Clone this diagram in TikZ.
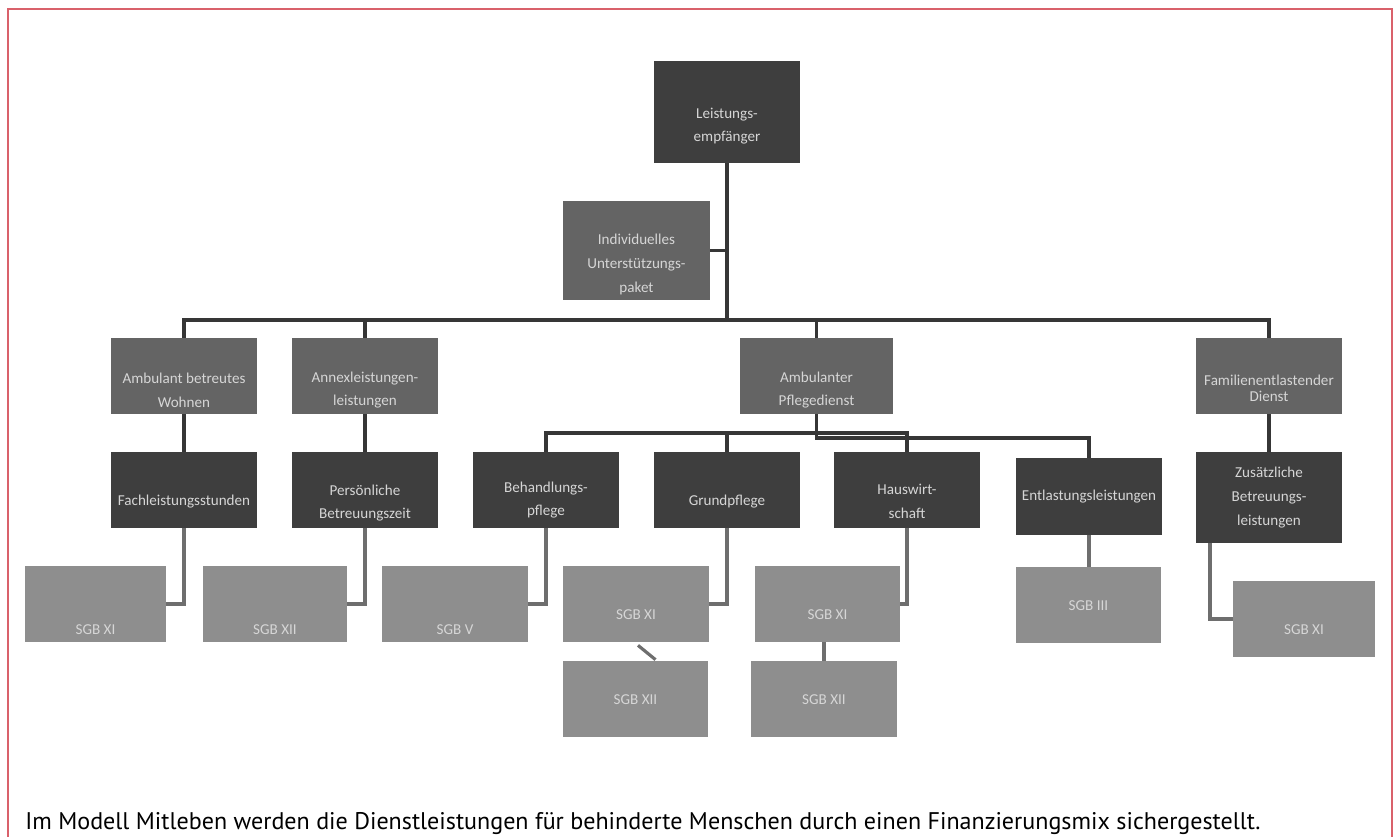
\documentclass[tikz,border=0pt]{standalone}
\usepackage{fontspec}
\setmainfont{Carlito}
\newfontfamily\capfont{PT Sans}
\usetikzlibrary{calc}
\definecolor{dkfill}{HTML}{3E3E3E}
\definecolor{mdfill}{HTML}{646464}
\definecolor{ltfill}{HTML}{8E8E8E}
\definecolor{lncol}{HTML}{363636}
\definecolor{lnbcol}{HTML}{6E6E6E}
\definecolor{txcol}{HTML}{D6D6D6}
\definecolor{frmcol}{HTML}{D9616B}
\tikzset{
 bx/.style={rectangle, inner sep=0pt, draw=none},
 dkbox/.style={bx, fill=dkfill},
 mdbox/.style={bx, fill=mdfill},
 ltbox/.style={bx, fill=ltfill},
 txt/.style={text=txcol, font=\fontsize{8.6}{13.5}\selectfont, align=center, inner sep=0pt},
 conn/.style={draw=lncol, line width=1.9pt},
 connb/.style={draw=lnbcol, line width=1.8pt},
}
\newcommand\mybox[6]{\node[#2, minimum width={(#5-#3)*0.02cm}, minimum height={(#6-#4)*0.02cm}] (#1) at ({(#3+#5)/2},{(#4+#6)/2}) {};}
\newcommand\mytxt[3]{\node[txt] (#1-t) at ($(#1.center)+(0,#2)$) {#3};}
\begin{document}
\begin{tikzpicture}[x=0.02cm,y=-0.02cm]
\useasboundingbox (0,0) rectangle (1396,836);
\fill[white] (0,0) rectangle (1396,836);
\draw[frmcol, line width=1pt] (8,840) -- (8,9) -- (1392,9) -- (1392,840);
% boxes
\mybox{emp}{dkbox}{654}{61}{800}{163}
\mybox{iup}{mdbox}{563}{201}{710}{300}
\mybox{abw}{mdbox}{111}{338}{257}{414}
\mybox{ass}{mdbox}{292}{338}{438}{414}
\mybox{apd}{mdbox}{740}{338}{893}{414}
\mybox{fed}{mdbox}{1196}{338}{1342}{414}
\mybox{fls}{dkbox}{111}{452}{257}{528}
\mybox{pbz}{dkbox}{292}{452}{438}{528}
\mybox{bhp}{dkbox}{473}{452}{619}{528}
\mybox{grp}{dkbox}{654}{452}{800}{528}
\mybox{hsw}{dkbox}{834}{452}{980}{528}
\mybox{ent}{dkbox}{1016}{458}{1162}{535}
\mybox{zbl}{dkbox}{1196}{452}{1342}{543}
\mybox{sa}{ltbox}{25}{566}{166}{642}
\mybox{sb}{ltbox}{203}{566}{347}{642}
\mybox{sc}{ltbox}{382}{566}{528}{642}
\mybox{sd}{ltbox}{563}{566}{709}{642}
\mybox{se}{ltbox}{563}{661}{708}{737}
\mybox{sf}{ltbox}{755}{566}{900}{642}
\mybox{sg}{ltbox}{751}{661}{897}{737}
\mybox{sh}{ltbox}{1016}{567}{1161}{643}
\mybox{si}{ltbox}{1233}{581}{1375}{657}
% texts
\mytxt{emp}{14}{Leistungs-\\empfänger}
\mytxt{iup}{14}{Individuelles\\Unterstützungs-\\paket}
\mytxt{abw}{14}{Ambulant betreutes\\Wohnen}
\mytxt{ass}{14}{Annexleistungen-\\leistungen}
\mytxt{apd}{14}{Ambulanter\\Pflegedienst}
\mytxt{fed}{12}{Familienentlastender\\[-4.5pt]Dienst}
\mytxt{fls}{12}{Fachleistungsstunden}
\mytxt{pbz}{13}{Persönliche\\Betreuungszeit}
\mytxt{bhp}{10}{Behandlungs-\\pflege}
\mytxt{grp}{12}{Grundpflege}
\mytxt{hsw}{11}{Hauswirt-\\schaft}
\mytxt{ent}{0}{Entlastungsleistungen}
\mytxt{zbl}{0}{Zusätzliche\\Betreuungs-\\leistungen}
\mytxt{sa}{26}{SGB XI}
\mytxt{sb}{26}{SGB XII}
\mytxt{sc}{26}{SGB V}
\mytxt{sd}{11}{SGB XI}
\mytxt{se}{1}{SGB XII}
\mytxt{sf}{11}{SGB XI}
\mytxt{sg}{1}{SGB XII}
\mytxt{sh}{1}{SGB III}
\mytxt{si}{11}{SGB XI}
% connectors
\coordinate (busy) at (0,320);
\coordinate (by1) at (0,433);
\coordinate (by2) at (0,438);
\coordinate (zc) at (1210,0);
\draw[conn] (emp.south) -- (emp.south |- busy);
\draw[conn] (iup.east) -- (iup.east -| emp.south);
\draw[conn] (abw.north) -- (abw.north |- busy) -- (fed.north |- busy) -- (fed.north);
\draw[conn] (ass.north) -- (ass.north |- busy);
\draw[conn] (apd.north) -- (apd.north |- busy);
\draw[conn] (abw.south) -- (fls.north);
\draw[conn] (ass.south) -- (pbz.north);
\draw[conn] (fed.south) -- (zbl.north);
\draw[conn] (apd.south) -- (apd.south |- by2) -- (ent.north |- by2) -- (ent.north);
\draw[conn] (bhp.north) -- (bhp.north |- by1) -- (hsw.north |- by1) -- (hsw.north);
\draw[conn] (grp.north) -- (grp.north |- by1);
\draw[connb] (fls.south) -- (fls.south |- sa.east) -- (sa.east);
\draw[connb] (pbz.south) -- (pbz.south |- sb.east) -- (sb.east);
\draw[connb] (bhp.south) -- (bhp.south |- sc.east) -- (sc.east);
\draw[connb] (grp.south) -- (grp.south |- sd.east) -- (sd.east);
\draw[connb] (hsw.south) -- (hsw.south |- sf.east) -- (sf.east);
\draw[connb] ([shift={(2,3)}]sd.south) -- ([shift={(20,-1)}]se.north);
\draw[connb] (sg.north) -- (sg.north |- sf.south);
\draw[connb] (ent.south) -- (ent.south |- sh.north);
\draw[connb] (zbl.south -| zc) -- (zc |- si.west) -- (si.west);
% caption
\node[anchor=base west, inner sep=0pt, font=\capfont\fontsize{13.7}{16}\selectfont] (cap) at (25,829) {Im Modell Mitleben werden die Dienstleistungen für behinderte Menschen durch einen Finanzierungsmix sichergestellt.};
\end{tikzpicture}
\end{document}
